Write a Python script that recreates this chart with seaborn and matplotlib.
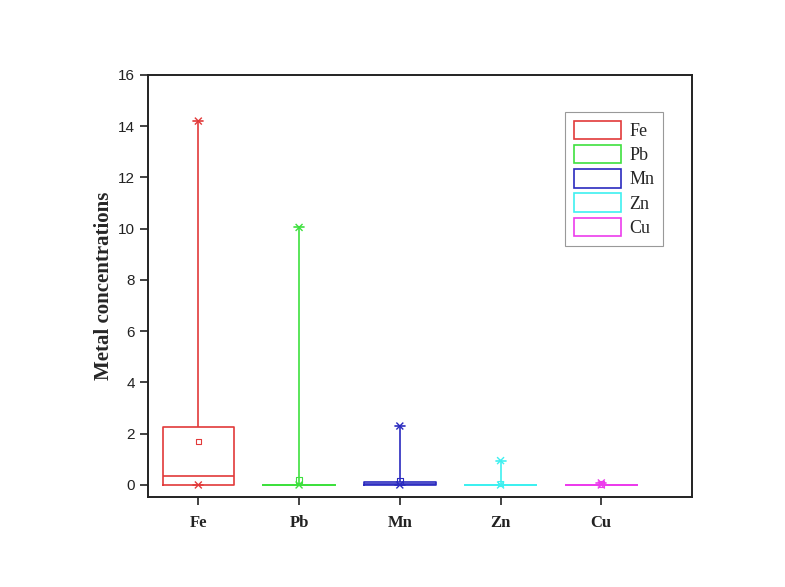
import pandas as pd
import seaborn as sns
import matplotlib.pyplot as plt
from matplotlib.patches import Patch

# Box statistics
metals = ['Fe', 'Pb', 'Mn', 'Zn', 'Cu']
mins = [0.0, 0.0, 0.0, 0.0, 0.0]
q1 = [0.0, 0.0, 0.0, 0.0, 0.0]
medians = [0.35, 0.0, 0.03, 0.0, 0.0]
q3 = [2.25, 0.01, 0.1, 0.01, 0.01]
maxs = [14.2, 10.05, 2.3, 0.95, 0.08]
means = [1.7, 0.2, 0.15, 0.05, 0.04]
colors = ['#e23a3a', '#3ee03e', '#2a2abf', '#3ef0f0', '#ec3cec']

sns.set_style('ticks')
plt.rcParams['font.family'] = ['Liberation Serif', 'DejaVu Serif']

# five-number samples so the box quartiles land on the read values
rows = []
for m, a, b, c, d, e in zip(metals, mins, q1, medians, q3, maxs):
    for v in (a, b, c, d, e):
        rows.append({'metal': m, 'value': v})
df = pd.DataFrame(rows)
ext = pd.DataFrame({'metal': metals * 2, 'value': maxs + mins})
mdf = pd.DataFrame({'metal': metals, 'value': means})
pal = dict(zip(metals, colors))

fig = plt.figure(figsize=(7.85, 5.87), dpi=100)
ax = fig.add_axes([0.1885, 0.1533, 0.693, 0.719])

sns.boxplot(data=df, x='metal', y='value', hue='metal', palette=pal, order=metals,
            fill=False, whis=(0, 100), width=0.71, linewidth=1.2, legend=False,
            capwidths=0.1, ax=ax)

sns.stripplot(data=ext, x='metal', y='value', hue='metal', palette=pal, order=metals,
              jitter=False, marker='x', s=5, linewidth=1.0, legend=False, ax=ax)

n0 = len(ax.collections)
sns.stripplot(data=mdf, x='metal', y='value', hue='metal', palette=pal, order=metals,
              jitter=False, marker='s', s=4, linewidth=0.8, legend=False, ax=ax)
for coll in ax.collections[n0:]:
    fc = coll.get_facecolors()
    coll.set_edgecolors(fc)
    coll.set_facecolors('none')

ax.set_xlim(-0.5, 4.9)
ax.set_ylim(-0.47, 16)
ax.set_yticks(range(0, 17, 2))
ax.set_xlabel('')
ax.set_ylabel('Metal concentrations', fontsize=15, fontweight='bold', labelpad=3)
for lab in ax.get_yticklabels():
    lab.set_family('Liberation Sans')
    lab.set_fontsize(11)
for lab in ax.get_xticklabels():
    lab.set_fontweight('bold')
    lab.set_fontsize(12)

for s in ax.spines.values():
    s.set_visible(True)
    s.set_linewidth(1.4)
    s.set_color('#222222')
ax.tick_params(axis='both', direction='out', length=6, width=1.2, colors='#222222')
ax.tick_params(axis='x', pad=7)

handles = [Patch(facecolor='white', edgecolor=c, linewidth=1.2, label=m)
           for m, c in zip(metals, colors)]
leg = ax.legend(handles=handles, loc='upper left', bbox_to_anchor=(0.767, 0.913),
                fontsize=13, handlelength=2.6, handleheight=1.2, handletextpad=0.45,
                labelspacing=0.27, borderpad=0.5, borderaxespad=0, fancybox=False,
                framealpha=1, edgecolor='#999999')
leg.get_frame().set_linewidth(0.8)

fig.savefig('out.png', dpi=100, facecolor='white')
